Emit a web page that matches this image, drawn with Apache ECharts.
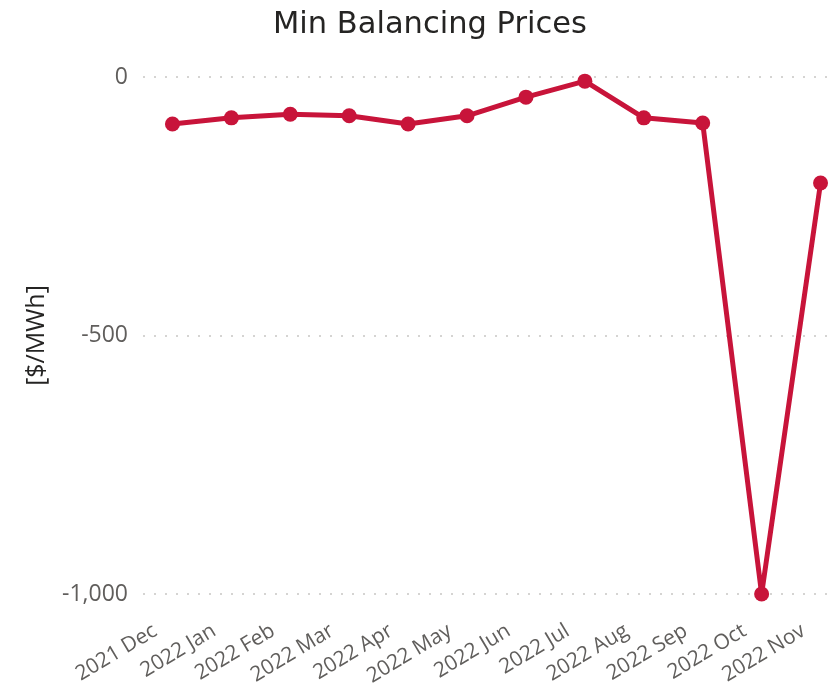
<!DOCTYPE html>
<html>
<head>
<meta charset="utf-8">
<script src="https://cdn.jsdelivr.net/npm/echarts@6/dist/echarts.min.js"></script>
<style>
  html, body { margin: 0; padding: 0; background: #fff; }
  #chart { width: 833px; height: 694px; }
</style>
</head>
<body>
<div id="chart"></div>
<script>
  var months = ['2021 Dec', '2022 Jan', '2022 Feb', '2022 Mar', '2022 Apr', '2022 May',
    '2022 Jun', '2022 Jul', '2022 Aug', '2022 Sep', '2022 Oct', '2022 Nov'];
  var minPrices = [-91, -79, -72, -75, -91, -75, -39, -8, -79, -89, -1000, -205];
  var yTicks = [-1000, -500, 0];

  var chart = echarts.init(document.getElementById('chart'));
  chart.setOption({
    animation: false,
    title: {
      text: 'Min Balancing Prices',
      left: 268,
      top: 5,
      textStyle: {
        fontFamily: 'DejaVu Sans',
        fontWeight: 'normal',
        fontSize: 30.5,
        color: '#252423'
      }
    },
    grid: {
      left: 143,
      right: -17,
      top: 77,
      bottom: 100,
      outerBoundsMode: 'none'
    },
    xAxis: {
      type: 'category',
      data: months,
      boundaryGap: true,
      axisLine: { show: false },
      axisTick: { show: false },
      axisLabel: {
        rotate: 31,
        interval: 0,
        margin: 25,
        padding: [0, 20, 0, 0],
        fontFamily: 'Open Sans',
        fontSize: 21,
        color: '#605E5C'
      }
    },
    yAxis: {
      type: 'value',
      min: -1000,
      max: 0,
      interval: 500,
      name: '[$/MWh]',
      nameLocation: 'middle',
      nameRotate: 90,
      nameGap: 94,
      nameTextStyle: {
        fontFamily: 'Open Sans',
        fontSize: 25,
        color: '#252423'
      },
      axisLine: { show: false },
      axisTick: { show: false },
      axisLabel: {
        margin: 15,
        fontFamily: 'Open Sans',
        fontSize: 23,
        color: '#605E5C',
        formatter: function (v) {
          return yTicks.indexOf(v) >= 0 ? v.toLocaleString('en-US') : '';
        }
      },
      splitLine: {
        lineStyle: { type: [2, 9], color: '#C8C6C4', width: 1.5 }
      }
    },
    series: [{
      type: 'line',
      data: minPrices,
      symbol: 'circle',
      symbolSize: 15,
      lineStyle: { color: '#C8143A', width: 5 },
      itemStyle: { color: '#C8143A' }
    }]
  });
</script>
</body>
</html>
